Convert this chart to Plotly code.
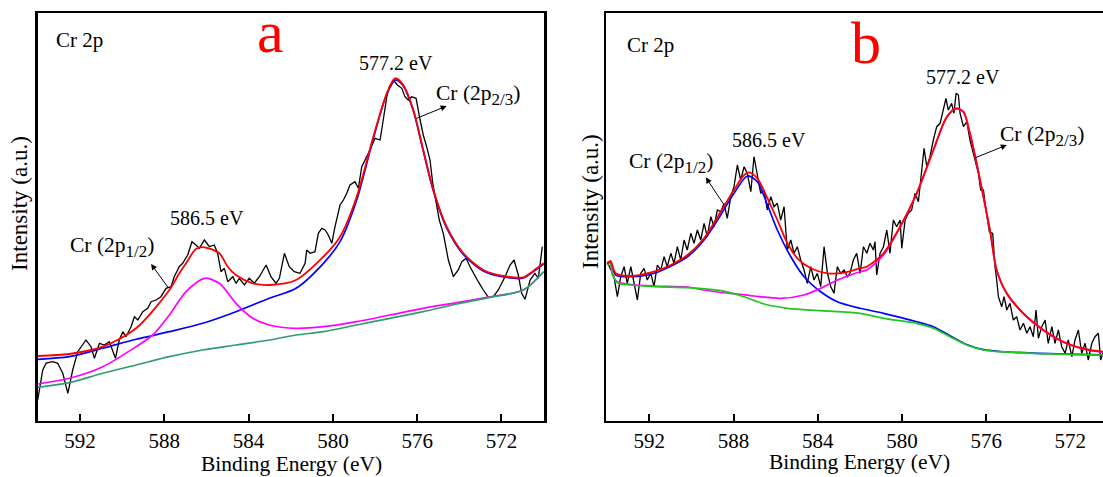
import plotly.graph_objects as go

# ---------------- Panel a data (binding energy in eV, intensity in a.u.) ----------------
a_exp_ev = [594.01, 593.77, 593.61, 593.30, 593.06, 592.82, 592.58, 592.35, 592.11, 591.72,
            591.48, 591.32, 591.08, 590.85, 590.61, 590.32, 590.14, 589.97, 589.82, 589.58,
            589.42, 589.26, 589.02, 588.79, 588.63, 588.39, 588.16, 587.92, 587.68, 587.53,
            587.29, 587.13, 586.89, 586.69, 586.50, 586.34, 586.10, 585.86, 585.63, 585.47,
            585.31, 585.15, 584.99, 584.75, 584.60, 584.44, 584.20, 583.97, 583.73, 583.49,
            583.17, 582.94, 582.70, 582.54, 582.30, 582.07, 581.83, 581.56, 581.32, 581.24,
            581.08, 580.85, 580.69, 580.53, 580.37, 580.22, 580.05, 579.90, 579.66, 579.50,
            579.34, 579.19, 578.95, 578.79, 578.63, 578.47, 578.24, 578.00, 577.76, 577.61,
            577.44, 577.32, 577.13, 576.94, 576.73, 576.58, 576.42, 576.26, 576.05, 575.86,
            575.71, 575.55, 575.39, 575.26, 575.10, 574.95, 574.76, 574.52, 574.28, 574.05,
            573.88, 573.68, 573.49, 573.25, 573.10, 572.86, 572.62, 572.38, 572.15, 571.83,
            571.59, 571.40, 571.20, 571.04, 570.88, 570.64, 570.41, 570.25, 570.13, 570.06]
a_exp_int = [20, 50, 57, 58.3, 56.7, 46.7, 26.7, 50, 68.3, 80,
             73.3, 61.7, 76.7, 75, 78.3, 61.7, 80, 88.3, 83.3, 93.3,
             103.3, 100, 108.3, 111.7, 118.3, 120, 123.3, 131.7, 133.3, 143.3,
             153.3, 156.7, 165, 178.3, 175, 171.7, 180, 173.3, 175, 166.7,
             148.3, 151.7, 138.3, 143.3, 136.7, 141.7, 135, 141.7, 136.7, 143.3,
             155, 143.3, 136.7, 141.7, 166.7, 153.3, 148.3, 146.7, 156.7, 170,
             166.7, 168.3, 186.7, 191.7, 190, 185, 176.7, 193.3, 215, 220,
             226.7, 235, 238.3, 231.7, 253.3, 260, 270, 281.7, 280, 300,
             323.3, 333.3, 340, 335, 331.7, 323.3, 320, 323.3, 321.7, 300,
             285, 273.3, 260, 236.7, 216.7, 200, 186.7, 160, 143.3, 150,
             158.3, 161.7, 153.3, 143.3, 138.3, 130, 122.7, 123.3, 130, 143.3,
             155, 160, 145, 126.7, 120.7, 140, 146.7, 141.7, 163.3, 173.3]

a_env_ev = [594.0, 592.51, 590.92, 589.34, 587.76, 587.29, 586.97, 586.50, 586.10, 585.39,
            584.99, 584.60, 583.80, 583.02, 581.75, 580.45, 579.66, 578.87, 578.08, 577.44,
            577.05, 576.66, 576.18, 575.71, 575.23, 574.60, 573.81, 572.86, 571.91, 570.96,
            570.32, 570.0]
a_env_int = [64, 66, 73.3, 91.7, 130, 146.7, 156.7, 171, 172.7, 166.7,
             153.3, 145, 136.7, 135, 140, 163.3, 183.3, 223.3, 283.3, 326.7,
             341.7, 335, 310, 270, 230, 193.3, 166.7, 150, 144, 142.7,
             151.7, 156.7]

a_p32_ev = [594.0, 592.51, 590.92, 589.34, 587.76, 586.18, 584.60, 583.02, 581.75, 580.45,
            579.66, 578.87, 578.08, 577.44, 577.02, 576.66, 576.18, 575.71, 575.23, 574.60,
            573.81, 572.86, 571.91, 570.96, 570.32, 570.0]
a_p32_int = [60.7, 63.3, 71.7, 80.7, 88.3, 96.7, 108.3, 121.7, 131.7, 156.7,
             178.3, 220, 281.7, 326, 340, 334, 309, 269, 229, 192,
             165.5, 149, 143, 142, 151, 156]

a_p12_ev = [594.0, 592.51, 590.92, 589.34, 588.55, 587.76, 586.97, 586.10, 585.39, 584.60,
            583.80, 583.02, 581.75, 580.45, 578.87, 577.29, 575.71, 574.12, 572.70, 570.96, 570.0]
a_p12_int = [36, 41.7, 53.3, 73.3, 85, 105, 128.3, 141.7, 136.7, 116.7,
             101.7, 95, 91.7, 93.3, 98.3, 105, 111.7, 117.3, 122.7, 130, 148.3]

a_bg_ev = [594.0, 592.51, 590.92, 589.34, 587.76, 586.18, 584.60, 583.02, 581.75, 580.45,
           578.87, 577.29, 575.71, 574.12, 572.54, 570.96, 570.0]
a_bg_int = [32.7, 37.3, 46.7, 55, 63.3, 70, 75, 80, 85, 88.3,
            95, 101.7, 108.3, 116, 122.7, 130, 148.3]

# ---------------- Panel b data ----------------
b_exp_ev = [594.00, 593.68, 593.52, 593.36, 593.20, 593.05, 592.88, 592.73, 592.57, 592.41,
            592.25, 592.10, 591.93, 591.78, 591.62, 591.46, 591.30, 591.15, 590.98, 590.83,
            590.67, 590.51, 590.35, 590.20, 590.03, 589.88, 589.72, 589.56, 589.40, 589.25,
            589.08, 588.93, 588.77, 588.61, 588.45, 588.30, 588.13, 587.98, 587.82, 587.66,
            587.50, 587.35, 587.18, 587.03, 586.87, 586.71, 586.55, 586.40, 586.23, 586.08,
            585.92, 585.76, 585.60, 585.45, 585.28, 585.13, 584.97, 584.81, 584.65, 584.50,
            584.33, 584.18, 584.02, 583.86, 583.70, 583.54, 583.38, 583.23, 583.07, 582.91,
            582.75, 582.59, 582.47, 582.31, 582.15, 581.99, 581.83, 581.67, 581.52, 581.36,
            581.28, 581.20, 581.04, 580.88, 580.72, 580.57, 580.41, 580.25, 580.09, 580.01,
            579.85, 579.70, 579.54, 579.38, 579.22, 579.06, 578.95, 578.82, 578.67, 578.51,
            578.35, 578.19, 578.03, 577.91, 577.80, 577.64, 577.53, 577.43, 577.32, 577.24,
            577.08, 576.92, 576.77, 576.58, 576.37, 576.26, 576.13, 576.01, 575.85, 575.69,
            575.58, 575.50, 575.42, 575.26, 575.15, 575.02, 574.87, 574.71, 574.55, 574.39,
            574.23, 574.07, 573.92, 573.76, 573.63, 573.52, 573.36, 573.20, 573.05, 572.88,
            572.73, 572.57, 572.41, 572.25, 572.10, 571.93, 571.78, 571.62, 571.46, 571.30,
            571.15, 570.98, 570.83, 570.67, 570.56, 570.46]
b_exp_int = [158.3, 143.3, 123.3, 143.3, 153.3, 136.7, 153.3, 136.7, 120, 146.7,
             151.7, 140, 146.7, 133.3, 155, 150, 163.3, 153.3, 166.7, 156.7,
             173.3, 160, 180, 170, 186.7, 176.7, 190, 180, 196.7, 183.3,
             203.3, 193.3, 210, 208.3, 216.7, 201.7, 223.3, 233.3, 255, 240,
             253.3, 246.7, 228.3, 263.3, 243.3, 226.7, 230, 210, 223.3, 213.3,
             216.7, 200, 213.3, 170, 180, 166.7, 173.3, 160, 150, 136.7,
             153.3, 140, 146.7, 133.3, 173.3, 146.7, 133.3, 126.7, 153.3, 146.7,
             150, 143.3, 146.7, 160, 166.7, 146.7, 173.3, 166.7, 176.7, 170,
             178.3, 145, 166.7, 173.3, 190, 166.7, 200, 193.3, 200, 171.7,
             200, 206.7, 210, 226.7, 218.3, 250, 271.7, 253.3, 263.3, 280,
             293.3, 296.7, 310, 321.7, 310, 316.7, 306.7, 326.7, 325, 306.7,
             293.3, 298.3, 280, 263.3, 246.7, 230, 230, 210, 188.3, 186.7,
             153.3, 140, 123.3, 113.3, 123.3, 110, 116.7, 100, 103.3, 90,
             96.7, 86.7, 93.3, 83.3, 110, 81.7, 93.3, 100, 76.7, 93.3,
             76.7, 90, 73.3, 66.7, 80, 63.3, 80, 90, 66.7, 76.7,
             60, 76.7, 83.3, 86.7, 60, 66.7]

b_env_ev = [594.0, 593.85, 593.60, 592.88, 591.78, 590.98, 590.19, 589.40, 588.61, 587.98,
            587.50, 587.26, 586.87, 586.39, 585.92, 585.44, 584.97, 584.33, 583.54, 582.75,
            581.99, 581.67, 580.88, 580.09, 579.30, 578.51, 577.87, 577.43, 577.08, 576.77,
            576.45, 576.13, 575.82, 575.50, 575.02, 574.23, 573.28, 572.17, 571.07, 570.45]
b_env_int = [156, 159, 146.7, 144, 148.3, 155, 165, 181.7, 208.3, 230,
             245, 247.7, 241.7, 221.7, 200, 176.7, 161.7, 151.7, 146.7, 147.3,
             151.7, 153.3, 166.7, 193.3, 226.7, 270, 303.3, 311.7, 308.3, 286.7,
             256.7, 223.3, 190, 150, 126.7, 106.7, 90, 76.7, 70, 68.3]

b_p12_ev = [594.0, 593.85, 593.60, 592.88, 591.78, 590.19, 589.40, 588.61, 587.98, 587.34,
            586.87, 586.39, 585.92, 585.28, 584.65, 583.86, 583.07, 581.99, 580.88, 579.30,
            578.51, 577.72, 576.93, 576.13, 575.34, 573.76, 570.45]
b_p12_int = [156, 158, 145, 143.3, 146.7, 163.3, 180, 205, 226.7, 244,
             238.3, 215, 190, 163.3, 143.3, 128.3, 118.3, 111.7, 106.7, 98.3,
             93.3, 84.3, 75.5, 70.3, 68.5, 66.8, 65.1]

b_p32_ev = [594.0, 593.85, 593.75, 593.51, 592.88, 591.78, 590.19, 589.40, 588.61, 587.82,
            587.03, 585.76, 584.65, 583.86, 583.07, 581.99, 581.67, 580.88, 580.09, 579.30,
            578.51, 577.87, 577.43, 577.08, 576.77, 576.45, 576.13, 575.82, 575.50, 575.02,
            574.23, 573.28, 572.17, 571.07, 570.45]
b_p32_int = [156, 158, 145.5, 138, 135.5, 134, 133, 130, 127.5, 126,
             124, 121.7, 125, 131.7, 140, 148.3, 150, 165, 193, 226.5,
             269.5, 302.8, 311.2, 307.8, 286.2, 256.2, 222.8, 189.5, 149.5, 126.2,
             106.2, 89.5, 76.2, 69.5, 67.8]

b_bg_ev = [594.0, 593.85, 593.75, 593.51, 592.88, 591.78, 590.19, 588.61, 587.50, 586.55,
           585.44, 583.86, 581.99, 580.88, 579.30, 578.51, 577.72, 576.93, 576.13, 575.34,
           573.76, 570.45]
b_bg_int = [155, 157, 145, 137.3, 135, 133.3, 132.3, 129.3, 123.3, 116,
            111.7, 109.3, 106.7, 101.7, 96.7, 91.7, 83.3, 75, 70, 68.3,
            66.7, 65]

tick_vals = [592, 588, 584, 580, 576, 572]
tick_text = ["592", "588", "584", "580", "576", "572"]

SERIF = "Liberation Serif"
RED = "#ff0000"
BLUE = "#0000ff"
MAG = "#ff00ff"
GREEN_A = "#2f9e6e"
GREEN_B = "#1ec81e"

fig = go.Figure()


def add(xs, ys, color, width, xa, ya, spline=True):
    fig.add_trace(go.Scatter(
        x=xs, y=ys, mode="lines", xaxis=xa, yaxis=ya, hoverinfo="skip",
        line=dict(color=color, width=width, shape="spline" if spline else "linear",
                  smoothing=0.8 if spline else None)))


# panel a
add(a_exp_ev, a_exp_int, "#000000", 1.3, "x", "y", spline=False)
add(a_p32_ev, a_p32_int, BLUE, 1.7, "x", "y")
add(a_p12_ev, a_p12_int, MAG, 1.7, "x", "y")
add(a_bg_ev, a_bg_int, GREEN_A, 1.7, "x", "y")
add(a_env_ev, a_env_int, RED, 1.8, "x", "y")
# panel b
add(b_exp_ev, b_exp_int, "#000000", 1.3, "x2", "y2", spline=False)
add(b_p12_ev, b_p12_int, BLUE, 1.7, "x2", "y2")
add(b_p32_ev, b_p32_int, MAG, 1.7, "x2", "y2")
add(b_bg_ev, b_bg_int, GREEN_B, 1.7, "x2", "y2")
add(b_env_ev, b_env_int, RED, 1.8, "x2", "y2")

W, H = 1103, 477
ydom = [(H - 420.5) / H, (H - 13) / H]

xcommon = dict(
    tickmode="array", tickvals=tick_vals, ticktext=tick_text,
    ticks="inside", ticklen=7, tickwidth=2, tickcolor="black",
    showline=True, linewidth=2.5, linecolor="black",
    showgrid=False, zeroline=False,
    tickfont=dict(family=SERIF, size=21, color="black"),
)
ycommon = dict(
    range=[-0.5, 407], showticklabels=False, ticks="",
    showline=True, linewidth=2.5, linecolor="black",
    showgrid=False, zeroline=False, domain=ydom,
)

fig.update_layout(
    width=W, height=H,
    margin=dict(l=0, r=0, t=0, b=0),
    paper_bgcolor="white", plot_bgcolor="white",
    showlegend=False,
    font=dict(family=SERIF),
    xaxis=dict(xcommon, domain=[37.5 / W, 544 / W], range=[594.02, 569.98],
               anchor="y", mirror=True),
    yaxis=dict(ycommon, anchor="x", mirror=True),
    xaxis2=dict(xcommon, domain=[606 / W, 1.0], range=[594.06, 570.45],
                anchor="y2", mirror=True),
    yaxis2=dict(ycommon, anchor="x2", mirror=False),
)

ann = []


def label(text, x, y, xr, yr, size=20, anchor="center", color="black"):
    ann.append(dict(text=text, x=x, y=y, xref=xr, yref=yr, showarrow=False,
                    xanchor=anchor, yanchor="middle",
                    font=dict(family=SERIF, size=size, color=color)))


def arrow(hx, hy, tx, ty, xr, yr):
    ann.append(dict(text="", x=hx, y=hy, ax=tx, ay=ty, xref=xr, yref=yr,
                    axref=xr, ayref=yr, showarrow=True, arrowhead=2,
                    arrowsize=1.2, arrowwidth=1, arrowcolor="black",
                    standoff=0, startstandoff=0))


SUB12 = "Cr (2p<sub><span style='font-size:17px'>1/2</span></sub>)"
SUB23 = "Cr (2p<sub><span style='font-size:17px'>2/3</span></sub>)"

# panel a texts
label("Cr 2p", 593.23, 380.5, "x", "y", size=21, anchor="left")
label("a", 582.96, 388.3, "x", "y", size=60, color=RED)
label("577.2 eV", 577.0, 357, "x", "y", size=20)
label("586.5 eV", 585.98, 202, "x", "y", size=20)
label(SUB12, 592.58, 173, "x", "y", size=21.5, anchor="left")
label(SUB23, 575.2, 325, "x", "y", size=21.5, anchor="left")
arrow(588.63, 156, 587.76, 130.7, "x", "y")
arrow(574.60, 314, 576.10, 301, "x", "y")

# panel b texts
label("Cr 2p", 593.15, 375.5, "x2", "y2", size=21, anchor="left")
label("b", 581.73, 377, "x2", "y2", size=60, color=RED)
label("577.2 eV", 577.12, 343.3, "x2", "y2", size=20)
label("586.5 eV", 586.34, 280.3, "x2", "y2", size=20)
label(SUB12, 593.05, 257, "x2", "y2", size=21.5, anchor="left")
label(SUB23, 575.42, 284.5, "x2", "y2", size=21.5, anchor="left")
arrow(589.32, 242.7, 588.45, 215, "x2", "y2")
arrow(575.02, 275, 576.58, 261.7, "x2", "y2")

# axis titles
for xc, yc in [(291 / W, 1 - 464.4 / H), (859.3 / W, 1 - 461.5 / H)]:
    ann.append(dict(text="Binding Energy (eV)", x=xc, y=yc, xref="paper", yref="paper",
                    showarrow=False, xanchor="center", yanchor="middle",
                    font=dict(family=SERIF, size=21.5, color="black")))
for xc, yc in [(19.5 / W, 1 - 203.4 / H), (590 / W, 1 - 202 / H)]:
    ann.append(dict(text="Intensity (a.u.)", x=xc, y=yc, xref="paper", yref="paper",
                    showarrow=False, xanchor="center", yanchor="middle", textangle=-90,
                    font=dict(family=SERIF, size=23, color="black")))

fig.update_layout(annotations=ann)
fig.write_html("out.html",
               config={"displayModeBar": False, "staticPlot": True},
               post_script="document.body.style.margin='0px';"
                           "document.body.style.overflow='hidden';")
